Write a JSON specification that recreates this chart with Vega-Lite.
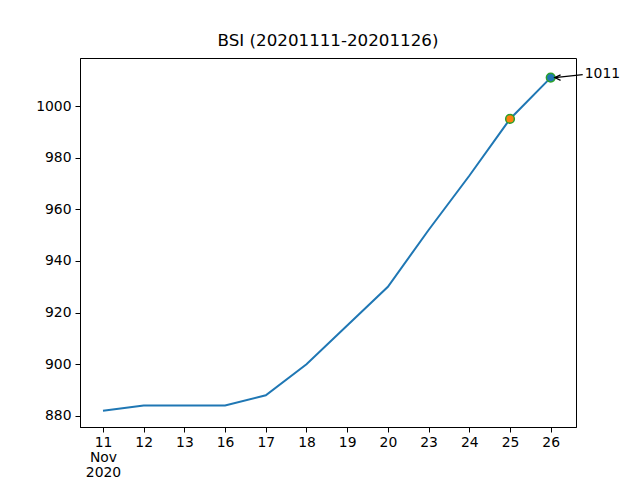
{
  "$schema": "https://vega.github.io/schema/vega-lite/v6.json",
  "autosize": "none",
  "width": 496,
  "height": 369,
  "padding": {"left": 80, "top": 58, "right": 64, "bottom": 53},
  "background": "white",
  "title": {"text": "BSI (20201111-20201126)", "fontSize": 16.7, "fontWeight": "normal", "font": "DejaVu Sans", "color": "black", "offset": 8},
  "config": {
    "font": "DejaVu Sans",
    "view": {"stroke": "black", "strokeWidth": 1},
    "axis": {"grid": false, "domainColor": "black", "tickColor": "black", "tickSize": 5, "labelFontSize": 13.9, "labelColor": "black", "labelPadding": 4, "title": null, "labelFont": "DejaVu Sans"}
  },
  "data": {"values": [
    {"day": "11", "value": 882},
    {"day": "12", "value": 884},
    {"day": "13", "value": 884},
    {"day": "16", "value": 884},
    {"day": "17", "value": 888},
    {"day": "18", "value": 900},
    {"day": "19", "value": 915},
    {"day": "20", "value": 930},
    {"day": "23", "value": 952},
    {"day": "24", "value": 973},
    {"day": "25", "value": 995},
    {"day": "26", "value": 1011}
  ]},
  "encoding": {
    "x": {"field": "day", "type": "ordinal", "sort": null,
      "scale": {"type": "point", "padding": 0.593, "align": 0.476},
      "axis": {"labelAngle": 0, "labelLineHeight": 15, "labelPadding": 3, "labelExpr": "datum.label == '11' ? ['11', 'Nov', '2020'] : datum.label"}},
    "y": {"field": "value", "type": "quantitative",
      "scale": {"domain": [875.7, 1018.6], "nice": false, "zero": false},
      "axis": {"values": [880, 900, 920, 940, 960, 980, 1000], "format": "d"}}
  },
  "layer": [
    {"mark": {"type": "line", "color": "#1f77b4", "strokeWidth": 2}},
    {"transform": [{"filter": "datum.day == '25'"}],
     "mark": {"type": "point", "filled": true, "fill": "#ff7f0e", "stroke": "#2ca02c", "strokeWidth": 1.5, "size": 75, "opacity": 1}},
    {"transform": [{"filter": "datum.day == '26'"}],
     "mark": {"type": "point", "filled": true, "fill": "#1f77b4", "stroke": "#2ca02c", "strokeWidth": 1.5, "size": 75, "opacity": 1}},
    {"transform": [{"filter": "datum.day == '26'"}],
     "mark": {"type": "rule", "color": "black", "strokeWidth": 1.2, "xOffset": 4, "x2Offset": 32, "y2Offset": -3},
     "encoding": {"x2": {"field": "day"}, "y2": {"field": "value"}}},
    {"transform": [{"filter": "datum.day == '26'"}],
     "mark": {"type": "point", "shape": "M1,-0.7L-0.5,0L1,0.7", "filled": false, "stroke": "black", "strokeWidth": 1.2, "size": 60, "xOffset": 6, "opacity": 1}},
    {"transform": [{"filter": "datum.day == '26'"}],
     "mark": {"type": "text", "align": "left", "baseline": "middle", "dx": 34, "dy": -4, "fontSize": 13.9, "color": "black"},
     "encoding": {"text": {"field": "value", "type": "quantitative"}}}
  ]
}
